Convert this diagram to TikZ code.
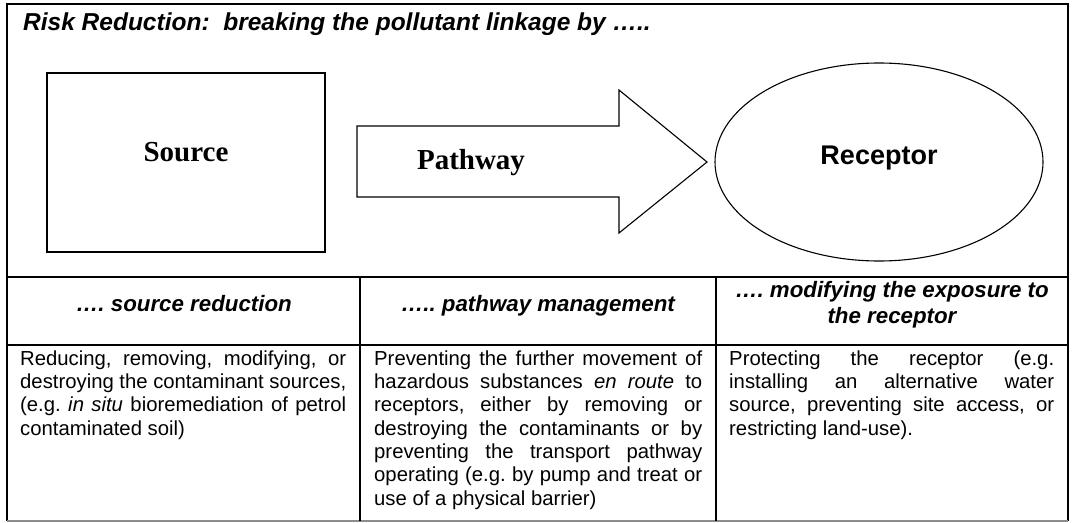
\documentclass[tikz,border=0pt]{standalone}
\usepackage{fontspec}
\setmainfont{Liberation Serif}
\setsansfont{Liberation Sans}
\usetikzlibrary{shapes.geometric}

% justified cell text: no hyphenation, no extra sentence spacing
\hyphenpenalty=10000
\exhyphenpenalty=10000
\tolerance=10000
\hbadness=10000
\frenchspacing

\tikzset{
  frame/.style={line width=2.2pt},
  rule/.style={line width=1.8pt},
  outline/.style={draw, line width=1.1pt},
  titletext/.style={inner sep=0, anchor=base west,
    font=\sffamily\bfseries\itshape\fontsize{24.5}{28}\selectfont},
  serifbold/.style={inner sep=0, font=\rmfamily\bfseries\fontsize{29}{32}\selectfont},
  sansbold/.style={inner sep=0, font=\sffamily\bfseries\fontsize{27}{30}\selectfont},
  headtext/.style={inner sep=0, align=center,
    font=\sffamily\bfseries\itshape\fontsize{22.3}{26}\selectfont},
  bodytext/.style={inner sep=0, anchor=north west, align=justify,
    font=\sffamily\fontsize{20.3}{23.3}\selectfont},
}

\begin{document}
\begin{tikzpicture}[x=1pt, y=-1pt]
  \useasboundingbox (0,0) rectangle (1073,522);

  % table grid
  \coordinate (tl) at (7,4);
  \coordinate (tr) at (1068,4);
  \coordinate (bl) at (7,521);
  \coordinate (br) at (1068,521);
  \draw[frame] (bl) -- (tl) -- (tr) -- (br);
  \draw[line width=1.5pt, black!45] (bl) -- (br);
  \draw[rule] (7,277) -- (1068,277);
  \draw[rule] (7,345) -- (1068,345);
  \draw[rule] (360,277) -- (360,521);
  \draw[rule] (716,277) -- (716,521);

  % title
  \node[titletext] (title) at (23,30) {Risk Reduction:~ breaking the pollutant linkage by \ldots..};

  % source -> pathway -> receptor
  \node[outline, minimum width=278pt, minimum height=179pt, inner sep=0] (sourcebox) at (186,162.5) {};
  \node[serifbold] (sourcelabel) at (186,152) {Source};

  \draw[line width=1.1pt, line join=miter]
    (357,126) coordinate (a1) -- (619,126) coordinate (a2) -- (619,90) coordinate (a3)
    -- (707,162) coordinate (tip) -- (619,233) coordinate (a5) -- (619,197) coordinate (a6)
    -- (357,197) coordinate (a7) -- cycle;
  \node[serifbold] (pathwaylabel) at (471,163) {Pathway};

  \node[ellipse, outline, minimum width=328pt, minimum height=198pt, inner sep=0] (receptorshape) at (879,162) {};
  \node[sansbold] (receptorlabel) at (879,158) {Receptor};

  % column headings
  \node[headtext, anchor=base] (head1) at (184,311) {\ldots. source reduction};
  \node[headtext, anchor=base] (head2) at (538,311) {\ldots.. pathway management};
  \node[headtext, anchor=north] (head3) at (892,278.8) {\strut\ldots. modifying the exposure to\\the receptor};

  % column texts
  \node[bodytext, text width=326pt] (body1) at (20,348.7)
    {\strut Reducing, removing, modifying, or\linebreak
     destroying the contaminant sources,\linebreak
     (e.g. \textit{in situ} bioremediation of petrol\linebreak
     contaminated soil)};
  \node[bodytext, text width=328pt] (body2) at (374,348.7)
    {\strut Preventing the further movement of\linebreak
     hazardous substances \textit{en route} to\linebreak
     receptors, either by removing or\linebreak
     destroying the contaminants or by\linebreak
     preventing the transport pathway\linebreak
     operating (e.g. by pump and treat or\linebreak
     use of a physical barrier)};
  \node[bodytext, text width=325pt] (body3) at (729,348.7)
    {\strut Protecting the receptor (e.g.\linebreak
     installing an alternative water\linebreak
     source, preventing site access, or\linebreak
     restricting land-use).};
\end{tikzpicture}
\end{document}
